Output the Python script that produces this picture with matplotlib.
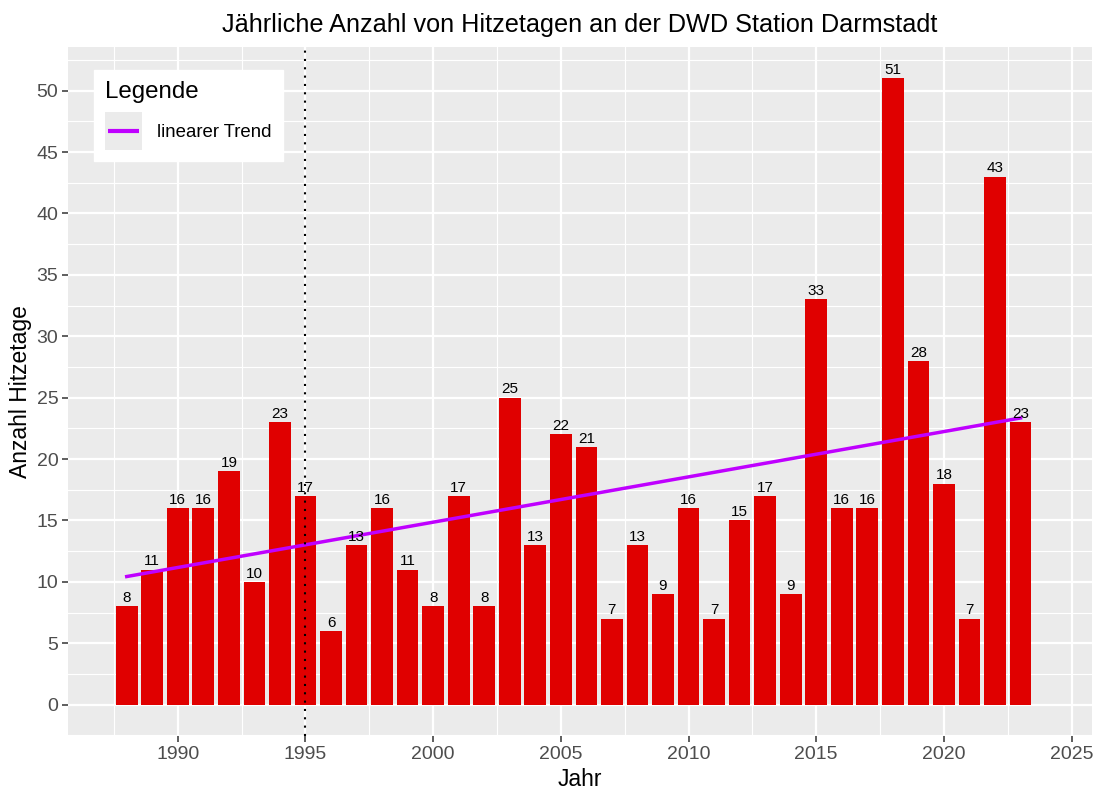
import numpy as np
import matplotlib
matplotlib.use("Agg")
from matplotlib import pyplot as plt
from matplotlib.ticker import MultipleLocator
from matplotlib.patches import Rectangle
from matplotlib.lines import Line2D
from matplotlib.legend_handler import HandlerBase

plt.rcParams["font.family"] = ["Liberation Sans", "DejaVu Sans"]

jahre = list(range(1988, 2024))
hitzetage = [8, 11, 16, 16, 19, 10, 23, 17, 6, 13, 16, 11, 8, 17, 8, 25, 13, 22,
             21, 7, 13, 9, 16, 7, 15, 17, 9, 33, 16, 16, 51, 28, 18, 7, 43, 23]

# linearer Trend (lm)
steigung, achse = np.polyfit(jahre, hitzetage, 1)
trend_x = np.array([jahre[0], jahre[-1]])
trend_y = achse + steigung * trend_x


class GrauerSchluessel(HandlerBase):
    # ggplot-artiger Legendenschluessel: graues Feld, Linie mittig
    def create_artists(self, legend, orig_handle, xdescent, ydescent, width, height, fontsize, trans):
        feld = Rectangle((-xdescent, -ydescent), width, height, facecolor="#EBEBEB",
                         edgecolor="none", transform=trans)
        y = height / 2 - ydescent
        rand = 0.08 * width
        linie = Line2D([-xdescent + rand, -xdescent + width - rand], [y, y],
                       color=orig_handle.get_color(), linewidth=orig_handle.get_linewidth() * 1.2,
                       solid_capstyle="butt", transform=trans)
        return [feld, linie]


fig = plt.figure(figsize=(11.07, 7.92), dpi=100)
ax = fig.add_axes([68 / 1107, 1 - 736 / 792, (1092 - 68) / 1107, (736 - 47) / 792])
ax.set_facecolor("#EBEBEB")
for s in ax.spines.values():
    s.set_visible(False)

ax.xaxis.set_major_locator(MultipleLocator(5))
ax.xaxis.set_minor_locator(MultipleLocator(2.5))
ax.yaxis.set_major_locator(MultipleLocator(5))
ax.yaxis.set_minor_locator(MultipleLocator(2.5))
ax.grid(which="major", color="white", linewidth=1.6)
ax.grid(which="minor", color="white", linewidth=0.8)
ax.set_axisbelow(True)
ax.tick_params(which="major", length=4, color="#333333", labelsize=14,
               labelcolor="#4D4D4D", width=1.1, pad=3)
ax.tick_params(which="minor", length=0)

ax.bar(jahre, hitzetage, width=0.85, color="#E00000", zorder=2)
for j, h in zip(jahre, hitzetage):
    ax.text(j, h + 0.1, str(h), ha="center", va="bottom", fontsize=11, color="black", zorder=4)

ax.plot(trend_x, trend_y, color="#BF00FF", linewidth=2.5, label="linearer Trend", zorder=3)
ax.axvline(1995, color="black", linestyle=(0, (1, 3)), linewidth=1.5, zorder=3)

ax.set_xlim(1985.7, 2025.8)
ax.set_ylim(-2.55, 53.55)

ax.set_xlabel("Jahr", fontsize=16.5, labelpad=4)
ax.set_ylabel("Anzahl Hitzetage", fontsize=16.5, labelpad=3)
ax.set_title("Jährliche Anzahl von Hitzetagen an der DWD Station Darmstadt", fontsize=18.2, pad=11)

leg = ax.legend(loc="upper left", bbox_to_anchor=((94 - 68) / 1024, 1 - (70 - 47) / 689),
                title="Legende", fontsize=13.4, title_fontsize=17.4, frameon=True,
                fancybox=False, borderpad=0.6, handlelength=2.0, handleheight=2.7,
                handletextpad=0.8, borderaxespad=0,
                handler_map={Line2D: GrauerSchluessel()})
leg.get_frame().set_edgecolor("white")
leg.get_frame().set_facecolor("white")
leg.get_frame().set_alpha(1)
leg._legend_box.align = "left"

fig.savefig("out.png", dpi=100)
